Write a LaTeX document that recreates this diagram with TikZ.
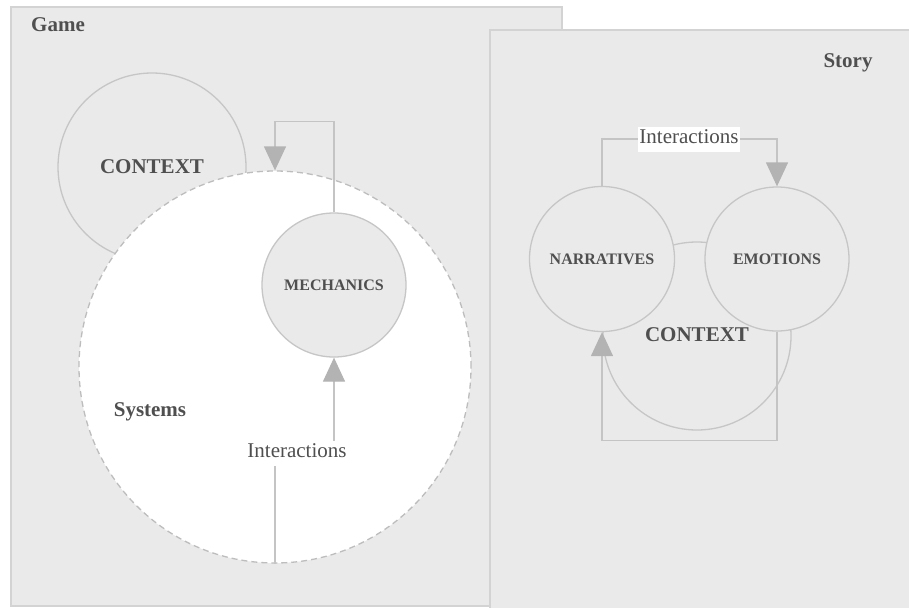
\documentclass[tikz,border=0pt]{standalone}
\usepackage{fontspec}
\setmainfont{Liberation Serif}
\usetikzlibrary{arrows.meta}
\definecolor{bggray}{HTML}{EAEAEA}
\definecolor{framegray}{HTML}{D3D3D3}
\definecolor{circgray}{HTML}{C6C6C6}
\definecolor{dashgray}{HTML}{BDBDBD}
\definecolor{arrowgray}{HTML}{B3B3B3}
\definecolor{linegray}{HTML}{C4C4C4}
\definecolor{txt}{HTML}{4F4F4F}
\tikzset{
  bigbold/.style={font=\fontsize{21}{25}\selectfont\bfseries, text=txt, inner sep=0pt},
  capbold/.style={font=\fontsize{16}{19}\selectfont\bfseries, text=txt},
  circ/.style={circle, draw=circgray, line width=1.3pt, fill=bggray, inner sep=0pt},
  syscirc/.style={circle, draw=dashgray, line width=1.3pt, dash pattern=on 6pt off 4pt, fill=white, inner sep=0pt},
  edge/.style={draw=linegray, line width=1.3pt, -{Triangle[width=22pt,length=24pt,color=arrowgray]}},
  ilabel/.style={font=\fontsize{21}{25}\selectfont, text=txt, fill=white, inner xsep=1pt, inner ysep=0pt, text height=17pt, text depth=8pt},
}
\begin{document}
\begin{tikzpicture}[x=1pt,y=-1pt]
\useasboundingbox (0,0) rectangle (909,607);
% frames
\node[draw=framegray, line width=2pt, fill=bggray, minimum width=551pt, minimum height=599pt, inner sep=0pt] (gameframe) at (286.5,306.5) {};
\node[fill=bggray, minimum width=430pt, minimum height=590pt, inner sep=0pt] (storyframe) at (705,325) {};
\draw[framegray, line width=2pt] (storyframe.south west) -- (storyframe.north west) -- (storyframe.north east);
\node[bigbold] (gamelabel) at (58,25) {Game};
\node[bigbold] (storylabel) at (848,63) {Story};
% Game side
\node[circ, minimum size=188pt] (gctx) at (152,167) {};
\node[bigbold] (gctxlabel) at (152,167) {CONTEXT};
\node[syscirc, minimum size=392pt] (sys) at (275,367) {};
\node[circ, minimum size=144pt] (mech) at (334,285) {};
\node[capbold] at (mech) {MECHANICS};
\node[bigbold] (syslabel) at (150,412) {Systems};
\draw[edge] (mech.north) -- ++(0,-91) -| (sys.north);
\path (297,453) coordinate (ipos);
\draw[edge] (sys.south) |- (mech.south |- ipos) -- (mech.south);
\node[ilabel] (ilab) at (ipos) {Interactions};
% Story side
\node[circ, fill=none, minimum size=188pt] (sctx) at (697,336) {};
\node[circ, minimum size=145pt] (narr) at (602,259) {};
\node[capbold] at (narr) {NARRATIVES};
\node[circ, minimum size=144pt] (emo) at (777,259) {};
\node[capbold] at (emo) {EMOTIONS};
\node[bigbold] (sctxlabel) at (697,335) {CONTEXT};
\path (689,139) coordinate (spos);
\draw[edge] (narr.north) |- (spos) -| (emo.north);
\node[ilabel] (slab) at (spos) {Interactions};
\draw[edge] (emo.south) -- ++(0,109) -| (narr.south);
\end{tikzpicture}
\end{document}
